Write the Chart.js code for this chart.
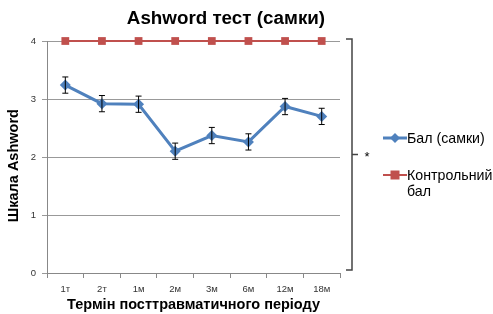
<!DOCTYPE html>
<html lang="uk">
<head>
  <meta charset="UTF-8" />
  <title>Ashword тест (самки)</title>
  <script src="https://cdn.jsdelivr.net/npm/chart.js@4.4.1/dist/chart.umd.min.js"></script>
  <style>
    body { margin: 0; background: #fff; font-family: 'Liberation Sans', Arial, sans-serif; }
    .wrap { position: relative; width: 493px; height: 314px; }
    #title {
      position: absolute; left: 0; width: 452px; top: 7px;
      text-align: center; font-weight: bold; font-size: 18.8px; color: #000;
    }
    .legend { position: absolute; left: 383px; top: 0; font-size: 14.2px; color: #000; line-height: 16px; }
    .legend .item { position: absolute; left: 0; white-space: nowrap; }
    .legend .txt { position: absolute; left: 24px; top: 0; }
  </style>
</head>
<body>
  <div class="wrap">
    <canvas id="chart" width="493" height="314"></canvas>
    <div id="title">Ashword тест (самки)</div>
    <div class="legend">
      <div class="item" style="top:130px">
        <canvas id="lg0" width="24" height="16" style="position:absolute;left:0;top:0"></canvas>
        <span class="txt">Бал (самки)</span>
      </div>
      <div class="item" style="top:167px">
        <canvas id="lg1" width="24" height="16" style="position:absolute;left:0;top:0"></canvas>
        <span class="txt">Контрольний<br>бал</span>
      </div>
    </div>
  </div>

  <script>
    // data
    const categories = ['1т', '2т', '1м', '2м', '3м', '6м', '12м', '18м'];
    const scoreValues = [3.24, 2.92, 2.91, 2.10, 2.37, 2.26, 2.87, 2.70];
    const scoreErrors = [0.14, 0.14, 0.14, 0.14, 0.14, 0.14, 0.14, 0.14];
    const controlValues = [4, 4, 4, 4, 4, 4, 4, 4];
    const yTicks = [0, 1, 2, 3, 4];

    const blue = '#4F81BD';
    const red = '#C0504D';

    // error bars, y title, the bracket with the asterisk
    const extras = {
      id: 'extras',
      afterDatasetsDraw(chart) {
        const c = chart.ctx;
        const x = chart.scales.x, y = chart.scales.y;
        c.save();
        c.strokeStyle = '#000';
        c.lineWidth = 1;
        scoreValues.forEach((v, i) => {
          const px = x.getPixelForValue(i);
          const top = y.getPixelForValue(v + scoreErrors[i]);
          const bot = y.getPixelForValue(v - scoreErrors[i]);
          c.beginPath();
          c.moveTo(px, top); c.lineTo(px, bot);
          c.moveTo(px - 3, top); c.lineTo(px + 3, top);
          c.moveTo(px - 3, bot); c.lineTo(px + 3, bot);
          c.stroke();
        });
        c.restore();

        // y axis title, sits a bit lower than the middle
        c.save();
        c.translate(14, y.getPixelForValue(1.85));
        c.rotate(-Math.PI / 2);
        c.fillStyle = '#000';
        c.font = 'bold 14.5px "Liberation Sans", Arial, sans-serif';
        c.textAlign = 'center';
        c.textBaseline = 'middle';
        c.fillText('Шкала Ashword', 0, 0);
        c.restore();

        // bracket from the control level down to 0
        const bx = chart.chartArea.right + 12;
        const bTop = y.getPixelForValue(4) - 2;
        const bBot = y.getPixelForValue(0.05);
        const mid = (bTop + bBot) / 2;
        c.save();
        c.strokeStyle = '#444';
        c.lineWidth = 1.5;
        c.beginPath();
        c.moveTo(bx - 6, bTop); c.lineTo(bx, bTop); c.lineTo(bx, bBot); c.lineTo(bx - 6, bBot);
        c.moveTo(bx, mid); c.lineTo(bx + 6, mid);
        c.stroke();
        c.fillStyle = '#000';
        c.font = '13px "Liberation Sans", Arial, sans-serif';
        c.textAlign = 'center';
        c.textBaseline = 'middle';
        c.fillText('*', bx + 15, mid + 3);
        c.restore();
      }
    };

    const ctx = document.getElementById('chart').getContext('2d');
    const chart = new Chart(ctx, {
      type: 'line',
      data: {
        labels: categories,
        datasets: [{
          label: 'Бал (самки)',
          data: scoreValues,
          borderColor: blue,
          backgroundColor: blue,
          borderWidth: 3,
          pointStyle: 'rectRot',
          pointRadius: 5.5,
          pointBorderWidth: 0,
          clip: false
        }, {
          label: 'Контрольний бал',
          data: controlValues,
          borderColor: red,
          backgroundColor: red,
          borderWidth: 2,
          pointStyle: 'rect',
          pointRadius: 5.5,
          pointBorderWidth: 0,
          clip: false
        }]
      },
      options: {
        responsive: false,
        animation: false,
        layout: { padding: { top: 41, right: 153, left: 0, bottom: 0 } },
        plugins: {
          legend: { display: false },
          title: { display: false },
          tooltip: { enabled: false }
        },
        scales: {
          x: {
            offset: true,
            grid: { offset: true, drawOnChartArea: false, color: '#888', tickLength: 5 },
            border: { color: '#888' },
            ticks: { color: '#333', font: { size: 9.5 }, padding: 6 },
            title: {
              display: true,
              text: 'Термін посттравматичного періоду',
              color: '#000',
              font: { size: 14.5, weight: 'bold' },
              padding: { top: 1, bottom: 0 }
            },
            afterFit: s => { s.height = 41; }
          },
          y: {
            min: 0,
            max: 4,
            afterBuildTicks: s => { s.ticks = yTicks.map(v => ({ value: v })); },
            grid: { color: '#999', tickLength: 5 },
            border: { color: '#888' },
            ticks: { color: '#333', font: { size: 9.5 }, padding: 6 },
            afterFit: s => { s.width = 47; }
          }
        }
      },
      plugins: [extras]
    });

    // small legend swatches: line with marker
    function swatch(id, color, shape) {
      const g = document.getElementById(id).getContext('2d');
      g.strokeStyle = color;
      g.fillStyle = color;
      g.lineWidth = shape === 'diamond' ? 3 : 2;
      g.beginPath(); g.moveTo(0, 8); g.lineTo(24, 8); g.stroke();
      g.beginPath();
      if (shape === 'diamond') {
        g.moveTo(12, 3); g.lineTo(17, 8); g.lineTo(12, 13); g.lineTo(7, 8);
      } else {
        g.rect(7.5, 3.5, 9, 9);
      }
      g.fill();
    }
    swatch('lg0', blue, 'diamond');
    swatch('lg1', red, 'square');
  </script>
</body>
</html>
